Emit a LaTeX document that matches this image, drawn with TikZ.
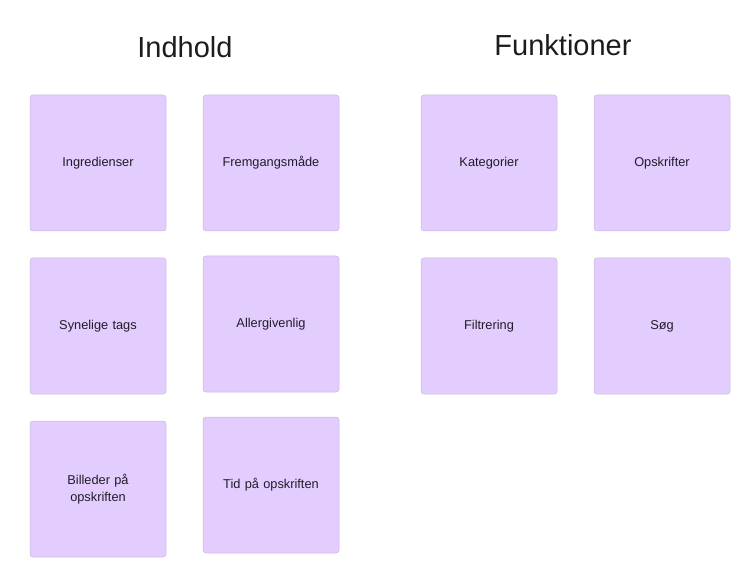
\documentclass[tikz,border=0pt]{standalone}
\usepackage{fontspec}
\setmainfont{Liberation Sans}
\definecolor{stick}{RGB}{227,204,254}
\definecolor{stickline}{RGB}{200,185,220}
\definecolor{txt}{RGB}{34,28,42}
\definecolor{ttl}{RGB}{28,28,28}
\begin{document}
\begin{tikzpicture}[x=1pt,y=-1pt,
  note/.style={draw=stickline,line width=0.5pt,fill=stick,rounded corners=3pt,
    minimum width=136pt,minimum height=136pt,inner sep=2pt,
    align=center,text width=120pt,font=\fontsize{12.8}{17}\selectfont,text=txt},
  title/.style={font=\fontsize{29}{34}\selectfont,text=ttl}]
\useasboundingbox (0,0) rectangle (747,561);
\node[title] (t1) at (185,47) {Indhold};
\node[title] (t2) at (563,45) {Funktioner};
\node[note] (ingr) at (98,163) {Ingredienser};
\node[note] (frem) at (271,163) {Fremgangsmåde};
\node[note] (syn) at (98,326) {Synelige tags};
\node[note] (all) at (271,324) {Allergivenlig};
\node[note] (bil) at (98,489) {Billeder på\\opskriften};
\node[note] (tid) at (271,485) {Tid på opskriften};
\node[note] (kat) at (489,163) {Kategorier};
\node[note] (ops) at (662,163) {Opskrifter};
\node[note] (fil) at (489,326) {Filtrering};
\node[note] (sog) at (662,326) {Søg};
\end{tikzpicture}
\end{document}
